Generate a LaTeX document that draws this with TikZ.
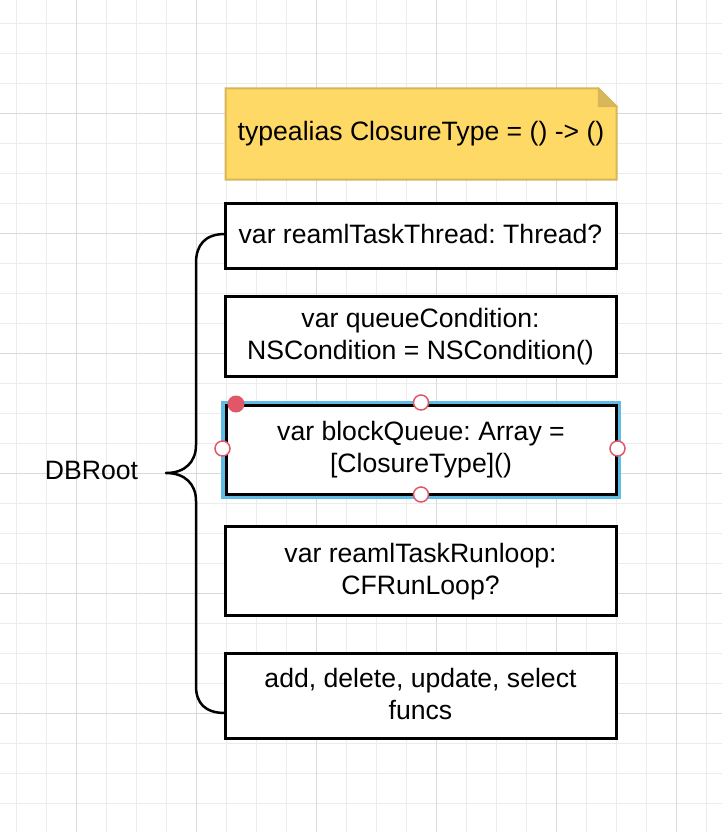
\documentclass[tikz,border=0pt]{standalone}
\usepackage{fontspec}
\setmainfont{Liberation Sans}
\frenchspacing
\definecolor{gridminor}{RGB}{236,236,236}
\definecolor{gridmajor}{RGB}{218,218,218}
\definecolor{notefill}{RGB}{255,217,102}
\definecolor{noteline}{RGB}{214,182,86}
\definecolor{notefold}{RGB}{214,184,90}
\definecolor{selblue}{RGB}{96,188,228}
\definecolor{handlered}{RGB}{224,88,104}
\newcommand\liftup[1]{\raisebox{-1pt}[\height][\depth]{\begin{tabular}{@{}c@{}}#1\end{tabular}}}
\tikzset{
  codebox/.style={draw=black, line width=3pt, fill=white, minimum width=391,
    font=\fontsize{26.6}{32}\selectfont\frenchspacing, inner sep=0pt},
  handle/.style={circle, draw=handlered, line width=1.5pt, fill=white, minimum size=15, inner sep=0pt},
  bracestyle/.style={draw=black, line width=2.5pt, line cap=round, line join=round}
}
\begin{document}
\begin{tikzpicture}[x=1pt,y=1pt]
\useasboundingbox (0,0) rectangle (722,-832);
\fill[white] (0,0) rectangle (722,-832);
% grid
\foreach \i in {0,...,23} {
  \draw[gridminor, line width=1.2pt] ({16.5+30*\i},0) -- ({16.5+30*\i},-832);
}
\foreach \i in {0,...,27} {
  \draw[gridminor, line width=1.2pt] (0,{-23.5-30*\i}) -- (722,{-23.5-30*\i});
}
\foreach \i in {0,...,5} {
  \draw[gridmajor, line width=1.2pt] ({76.5+120*\i},0) -- ({76.5+120*\i},-832);
}
\foreach \i in {0,...,6} {
  \draw[gridmajor, line width=1.2pt] (0,{-113.5-120*\i}) -- (722,{-113.5-120*\i});
}
% note
\draw[noteline, line width=2pt, fill=notefill, line join=miter]
  (225.5,-88.5) -- (598.5,-88.5) -- (616.5,-106.5) -- (616.5,-179.5) -- (225.5,-179.5) -- cycle;
\draw[noteline, line width=1.5pt, fill=notefold, line join=miter]
  (598.5,-88.5) -- (598.5,-106.5) -- (616.5,-106.5) -- cycle;
\node[font=\fontsize{26.6}{32}\selectfont\frenchspacing] (note) at (421,-133.5) {typealias ClosureType = () -> ()};
% boxes
\node[codebox, minimum height=65] (b1) at (420.5,-236) {\liftup{var reamlTaskThread: Thread?}};
\node[codebox, minimum height=80] (b2) at (420.5,-336.5) {\liftup{var queueCondition:\\NSCondition = NSCondition()}};
\draw[selblue, line width=4pt] (222.5,-402.5) rectangle (619,-496.5);
\node[codebox, minimum width=390, minimum height=89] (b3) at (421,-449.5) {\liftup{var blockQueue: Array =\\{}[ClosureType]()}};
\node[codebox, minimum height=89] (b4) at (420.5,-571) {\liftup{var reamlTaskRunloop:\\CFRunLoop?}};
\node[codebox, minimum height=85] (b5) at (420.5,-696) {\liftup{add, delete, update, select\\funcs}};
% handles
\node[handle] (hT) at (421,-402.5) {};
\node[handle] (hB) at (421,-494.5) {};
\node[handle] (hL) at (222.5,-448.5) {};
\node[handle] (hR) at (617.5,-448.5) {};
\fill[handlered] (236,-404) circle (8.5);
% brace
\coordinate (bt) at (225,-234);
\coordinate (bm) at (166,-473);
\coordinate (bb) at (225,-713);
\draw[bracestyle] (bt) .. controls (205,-234) and (196,-245) .. (196,-263)
  -- (196,-445) .. controls (196,-462) and (185,-473) .. (bm)
  .. controls (185,-473) and (196,-484) .. (196,-501)
  -- (196,-686) .. controls (196,-703) and (205,-713) .. (bb);
\node[font=\fontsize{26.6}{32}\selectfont] (root) at (91.5,-470) {DBRoot};
\end{tikzpicture}
\end{document}
